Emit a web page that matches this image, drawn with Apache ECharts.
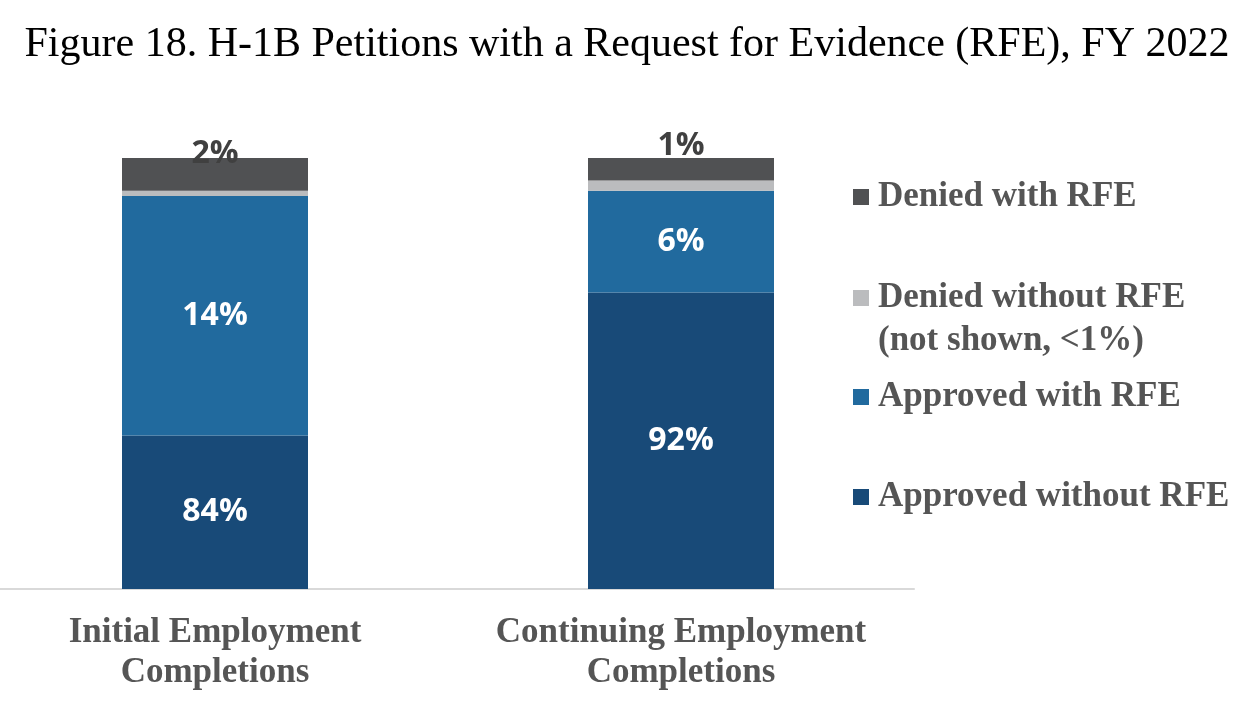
<!DOCTYPE html>
<html>
<head>
<meta charset="utf-8">
<script src="https://cdn.jsdelivr.net/npm/echarts@6/dist/echarts.min.js"></script>
<style>
  html, body { margin: 0; padding: 0; background: #fff; }
  #chart { width: 1254px; height: 704px; }
</style>
</head>
<body>
<div id="chart"></div>
<script>
// categories and values (percent of petitions)
var categories = ['Initial Employment\nCompletions', 'Continuing Employment\nCompletions'];
var seriesNames = ['Approved without RFE', 'Approved with RFE', 'Denied without RFE', 'Denied with RFE'];
var approvedWithout = [83.9, 92.2];
var approvedWith = [13.9, 5.9];
var deniedWithout = [0.3, 0.6];
var deniedWith = [1.9, 1.3];

(function(){
	var chart = echarts.init(document.getElementById('chart'));
	var colors = ['#184A78', '#216A9E', '#BBBCBE', '#505153'];
	var serif = '"Liberation Serif", "Times New Roman", serif';
	var sans = '"Open Sans", "Noto Sans", sans-serif';

	var pct = function(p){ return Math.round(p.value) + '%'; };

	// top label offsets for the small dark segment
	var topDist = [-12, -4];

	var legendTops = [197, 298, 397, 497];
	var legendOrder = [3, 2, 1, 0];
	var legends = legendOrder.map(function(idx, k){
		return {
			orient: 'vertical',
			left: 853,
			top: legendTops[k] - 20,
			padding: 0,
			itemWidth: 16,
			itemHeight: 16,
			icon: 'rect',
			selectedMode: false,
			data: [seriesNames[idx]],
			textStyle: {
				fontFamily: serif,
				fontWeight: 'bold',
				fontSize: 35,
				lineHeight: 40,
				color: '#555555',
				padding: [0, 0, 0, 4]
			}
		};
	});

	var option = {
		animation: false,
		title: {
			text: 'Figure 18. H-1B Petitions with a Request for Evidence (RFE), FY 2022',
			left: 'center',
			top: 19,
			textStyle: { fontFamily: serif, fontWeight: 'normal', fontSize: 42, color: '#000' }
		},
		legend: legends,
		grid: { left: -18, right: 340, top: 158, bottom: 115, outerBoundsMode: 'none' },
		xAxis: {
			type: 'category',
			data: categories,
			axisTick: { show: false },
			axisLine: { lineStyle: { color: '#d9d9d9', width: 2 } },
			axisLabel: {
				interval: 0,
				hideOverlap: false,
				margin: 24,
				fontFamily: serif,
				fontWeight: 'bold',
				fontSize: 35,
				lineHeight: 40,
				color: '#555555'
			}
		},
		yAxis: { type: 'value', min: 75, max: 100, show: false, splitLine: { show: false } },
		series: [
			{
				name: seriesNames[0], type: 'bar', stack: 'all', barWidth: 186,
				data: approvedWithout,
				itemStyle: { color: colors[0] },
				label: { show: true, position: 'inside', formatter: pct, color: '#fff', fontFamily: sans, fontWeight: 'bold', fontSize: 32 }
			},
			{
				name: seriesNames[1], type: 'bar', stack: 'all',
				data: approvedWith,
				itemStyle: { color: colors[1] },
				label: { show: true, position: 'inside', formatter: pct, color: '#fff', fontFamily: sans, fontWeight: 'bold', fontSize: 32 }
			},
			{
				name: seriesNames[2], type: 'bar', stack: 'all',
				data: deniedWithout,
				itemStyle: { color: colors[2] }
			},
			{
				name: seriesNames[3], type: 'bar', stack: 'all',
				data: deniedWith.map(function(v, i){
					return { value: v, label: { distance: topDist[i] } };
				}),
				itemStyle: { color: colors[3] },
				label: { show: true, position: 'top', formatter: pct, color: '#404040', fontFamily: sans, fontWeight: 'bold', fontSize: 32 }
			}
		],
		graphic: [{
			type: 'text',
			left: 878,
			top: 323,
			style: {
				text: '(not shown, <1%)',
				font: 'bold 35px ' + serif,
				fill: '#555555'
			}
		}]
	};
	chart.setOption(option);
})();
</script>
</body>
</html>
